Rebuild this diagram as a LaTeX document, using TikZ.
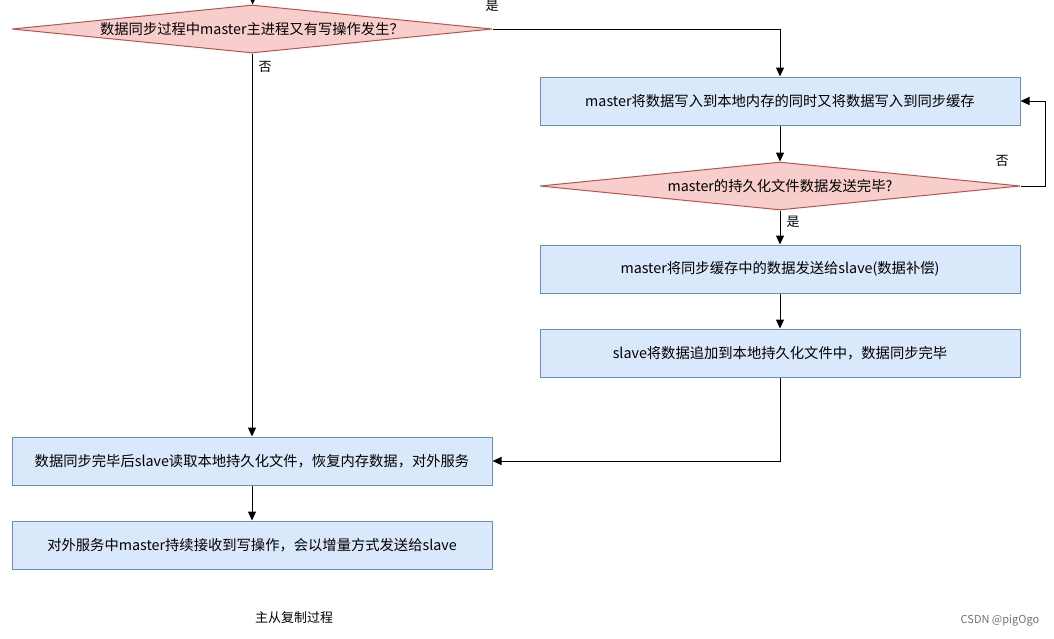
\documentclass[tikz,border=0pt]{standalone}
\usepackage{fontspec}
\newfontfamily\cjk{Noto Sans CJK SC}
\usetikzlibrary{shapes.geometric,arrows.meta}
\definecolor{boxfill}{HTML}{DAE8FC}
\definecolor{boxline}{HTML}{6C8EBF}
\definecolor{diafill}{HTML}{F8CECC}
\definecolor{dialine}{HTML}{B85450}

\begin{document}
\begin{tikzpicture}[x=1pt, y=-1pt,
    every node/.style = {font=\cjk\fontsize{14.3}{17}\selectfont},
    stepbox/.style = {shape=rectangle, draw=boxline, fill=boxfill,
      line width=1pt, minimum width=480pt, minimum height=48pt},
    choice/.style = {shape=diamond, draw=dialine, fill=diafill, aspect=10,
      line width=1pt, inner sep=0pt, minimum width=480pt, minimum height=48pt},
    flow/.style = {draw, line width=1pt, -{Triangle[length=9pt,width=8pt]}},
    tag/.style = {font=\cjk\fontsize{13}{15}\selectfont}]
    \useasboundingbox (0,0) rectangle (1054,638);
    \fill[white] (0,0) rectangle (1054,638);

    % left column
    \coordinate (start) at (253,-12);
    \node[choice] (q1) at (252,29) {数据同步过程中master主进程又有写操作发生？};
    \node[stepbox] (b4) at (252,461) {数据同步完毕后slave读取本地持久化文件，恢复内存数据，对外服务};
    \node[stepbox] (b5) at (252,545) {对外服务中master持续接收到写操作，会以增量方式发送给slave};

    % right column
    \node[stepbox] (b1) at (780,101) {master将数据写入到本地内存的同时又将数据写入到同步缓存};
    \node[choice] (q2) at (780,186) {master的持久化文件数据发送完毕?};
    \node[stepbox] (b2) at (780,269) {master将同步缓存中的数据发送给slave(数据补偿)};
    \node[stepbox] (b3) at (780,353) {slave将数据追加到本地持久化文件中，数据同步完毕};
    \coordinate (loop) at (1045,186);

    % connectors
    \draw[flow] (start) -- (q1);
    \draw[flow] (q1.east) -| (b1.north);
    \draw[flow] (b1) -- (q2);
    \draw[flow] (q2.east) -- (loop) |- (b1.east);
    \draw[flow] (q2) -- (b2);
    \draw[flow] (b2) -- (b3);
    \draw[flow] (b3.south) |- (b4.east);
    \draw[flow] (q1) -- (b4);
    \draw[flow] (b4) -- (b5);

    % labels
    \node[tag] (yes1) at (492,6) {是};
    \node[tag] (no1) at (265,67) {否};
    \node[tag] (no2) at (1002,161) {否};
    \node[tag] (yes2) at (793,222) {是};
    \node[tag] (title) at (294,618) {主从复制过程};
    \node[font=\cjk\fontsize{11}{13}\selectfont, text=black!55] (mark) at (1000,621) {CSDN @pigOgo};
\end{tikzpicture}
\end{document}
